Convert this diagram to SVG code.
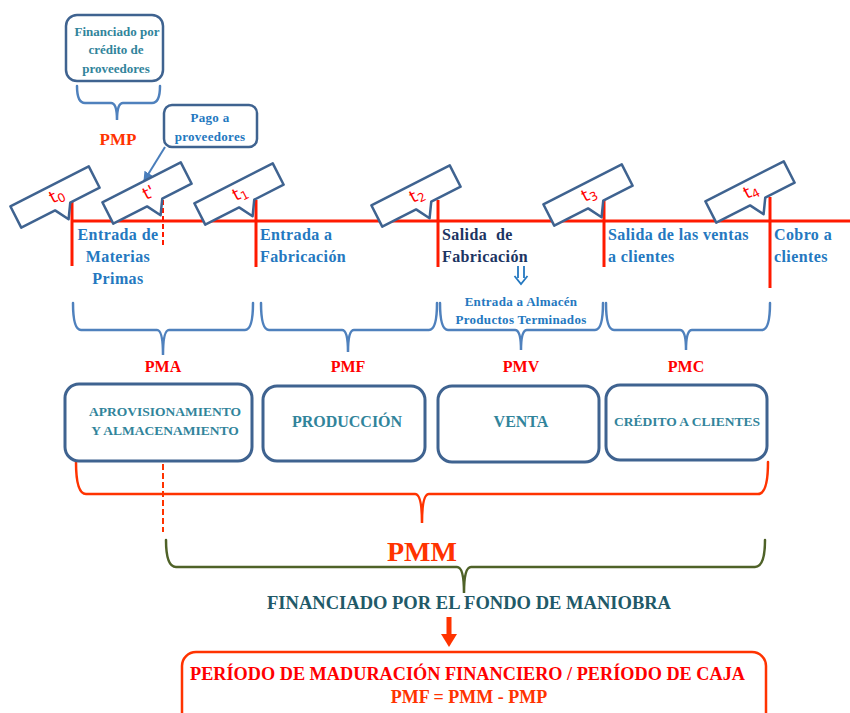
<svg xmlns="http://www.w3.org/2000/svg" width="850" height="713" viewBox="0 0 850 713">
<defs>
<style>
.ser{font-family:"Liberation Serif","Times New Roman",serif;font-weight:bold}
.lbl{font-size:16px;letter-spacing:0.4px;fill:#2478C0}
.navy{fill:#1C3462}
.teal{fill:#31849B}
.red{fill:#FF0000}
.ored{fill:#FF3300}
.co{fill:#fff;stroke:#3F6390;stroke-width:2.5;stroke-linejoin:round}
.box{fill:#fff;stroke:#3F6390;stroke-width:3}
.tl{stroke:#FF1A00;stroke-width:3;fill:none}
.br{fill:none;stroke:#4F81BD;stroke-width:2.5;stroke-linecap:round}
.tt{font-family:"DejaVu Sans",sans-serif;font-size:17px;fill:#FF0000}
</style>
<path id="callout" d="M-44,-12 H44 V12 H11 L2,26 L-6,12 H-44 Z"/>
<marker id="ah" viewBox="0 0 10 10" refX="9" refY="5" markerWidth="5" markerHeight="5" orient="auto"><path d="M0,0 L10,5 L0,10 Z" fill="#4A7EBB"/></marker>
</defs>
<rect width="850" height="713" fill="#fff"/>

<g id="connectors">
<line class="tl" x1="71" y1="221" x2="850" y2="221"/>
<line class="tl" x1="72" y1="200" x2="72" y2="266"/>
<line class="tl" x1="256" y1="200" x2="256" y2="267"/>
<line class="tl" x1="438" y1="200" x2="438" y2="267"/>
<line class="tl" x1="604" y1="200" x2="604" y2="267"/>
<line class="tl" x1="770" y1="197" x2="770" y2="288"/>
<line x1="163" y1="200" x2="163" y2="246" stroke="#FF1A00" stroke-width="2" stroke-dasharray="5,3"/>
<line x1="163" y1="464" x2="163" y2="532" stroke="#FF3300" stroke-width="2" stroke-dasharray="6,3"/>
<line x1="165" y1="147" x2="144" y2="181" stroke="#4A7EBB" stroke-width="2" marker-end="url(#ah)"/>
<path class="br" d="M77,86 Q77,103 85,103 H111 Q117,103 117,120 Q117,103 123,103 H152 Q160,103 160,86"/>
<path class="br" d="M73,303 Q73,330 81,330 H157 Q163,330 163,355 Q163,330 169,330 H245 Q253,330 253,303"/>
<path class="br" d="M261,303 Q261,330 269,330 H342 Q348,330 348,352 Q348,330 354,330 H429 Q437,330 437,303"/>
<path class="br" d="M440,303 Q440,330 448,330 H515 Q521,330 521,350 Q521,330 527,330 H595 Q603,330 603,303"/>
<path class="br" d="M606,303 Q606,330 614,330 H680 Q686,330 686,350 Q686,330 692,330 H762 Q770,330 770,303"/>
<path d="M76,462 Q76,494 86,494 H415 Q422,494 422,523 Q422,494 429,494 H758 Q768,494 768,462" fill="none" stroke="#FF3300" stroke-width="2.5" stroke-linecap="round"/>
<path d="M166,540 Q166,567 176,567 H457 Q464,567 464,593 Q464,567 471,567 H755 Q765,567 765,540" fill="none" stroke="#4F6228" stroke-width="2.5" stroke-linecap="round"/>
<rect x="446.5" y="617" width="5" height="19" fill="#FF3300"/>
<polygon points="441,634 457,634 449,647" fill="#FF3300"/>
<!-- double down arrow -->
<g fill="none" stroke="#2478C0" stroke-width="1.8" stroke-linejoin="miter">
<path d="M518,266 V278 M524,266 V278"/>
<path d="M514.5,276 L521,284 L527.5,276"/>
</g>
</g>

<g id="financiado-box">
<rect x="66" y="15" width="97" height="66" rx="11" fill="#fff" stroke="#3F6390" stroke-width="2.5"/>
<text class="ser teal" font-size="13" text-anchor="middle"><tspan x="117" y="36">Financiado por</tspan><tspan x="116" y="54">crédito de</tspan><tspan x="116" y="73">proveedores</tspan></text>
</g>
<g id="pmp"><text class="ser ored" font-size="17" x="118" y="145" text-anchor="middle">PMP</text></g>
<g id="pago-box">
<rect x="164" y="105" width="93" height="42" rx="8" fill="#fff" stroke="#3F6390" stroke-width="2.5"/>
<text class="ser" font-size="13" fill="#2478C0" letter-spacing="0.3" text-anchor="middle"><tspan x="210" y="122">Pago a</tspan><tspan x="210" y="141">proveedores</tspan></text>
</g>

<g id="t0"><g transform="translate(55,197) rotate(-27)"><use href="#callout" class="co"/><text class="tt" x="-5" y="5">t<tspan font-size="12" dy="3">0</tspan></text></g></g>
<g id="tprime"><g transform="translate(147,193) rotate(-27)"><use href="#callout" class="co"/><text class="tt" x="-4" y="6">t'</text></g></g>
<g id="t1"><g transform="translate(239,194) rotate(-27)"><use href="#callout" class="co"/><text class="tt" x="-6" y="5">t<tspan font-size="12" dy="3">1</tspan></text></g></g>
<g id="t2"><g transform="translate(416,196) rotate(-27)"><use href="#callout" class="co"/><text class="tt" x="-6" y="5">t<tspan font-size="12" dy="3">2</tspan></text></g></g>
<g id="t3"><g transform="translate(588,195) rotate(-27)"><use href="#callout" class="co"/><text class="tt" x="-6" y="5">t<tspan font-size="12" dy="3">3</tspan></text></g></g>
<g id="t4"><g transform="translate(750,192) rotate(-27)"><use href="#callout" class="co"/><text class="tt" x="-6" y="5">t<tspan font-size="12" dy="3">4</tspan></text></g></g>

<g id="lbl-entrada-mp"><text class="ser lbl" text-anchor="middle"><tspan x="118" y="240">Entrada de</tspan><tspan x="118" y="262">Materias</tspan><tspan x="118" y="284">Primas</tspan></text></g>
<g id="lbl-entrada-fab"><text class="ser lbl"><tspan x="260" y="240">Entrada a</tspan><tspan x="260" y="262">Fabricación</tspan></text></g>
<g id="lbl-salida-fab"><text class="ser lbl navy" xml:space="preserve"><tspan x="442" y="240">Salida  de</tspan><tspan x="442" y="262">Fabricación</tspan></text></g>
<g id="lbl-salida-ventas"><text class="ser lbl"><tspan x="608" y="240">Salida de las ventas</tspan><tspan x="608" y="262">a clientes</tspan></text></g>
<g id="lbl-cobro"><text class="ser lbl"><tspan x="774" y="240">Cobro a</tspan><tspan x="774" y="262">clientes</tspan></text></g>
<g id="lbl-almacen"><text class="ser" font-size="13" fill="#2478C0" letter-spacing="0.3" text-anchor="middle"><tspan x="521" y="306">Entrada a Almacén</tspan><tspan x="521" y="324">Productos Terminados</tspan></text></g>

<g id="pma"><text class="ser red" font-size="16" x="163" y="372" text-anchor="middle">PMA</text></g>
<g id="pmf"><text class="ser red" font-size="16" x="348" y="372" text-anchor="middle">PMF</text></g>
<g id="pmv"><text class="ser red" font-size="16" x="521" y="372" text-anchor="middle">PMV</text></g>
<g id="pmc"><text class="ser red" font-size="16" x="686" y="372" text-anchor="middle">PMC</text></g>

<g id="box-aprov"><rect class="box" x="65" y="384" width="187" height="77" rx="14"/><text class="ser teal" font-size="13.5" text-anchor="middle"><tspan x="165" y="416">APROVISIONAMIENTO</tspan><tspan x="165" y="435">Y ALMACENAMIENTO</tspan></text></g>
<g id="box-prod"><rect class="box" x="263" y="386" width="162" height="75" rx="14"/><text class="ser teal" font-size="16" x="347" y="427" text-anchor="middle">PRODUCCIÓN</text></g>
<g id="box-venta"><rect class="box" x="438" y="386" width="161" height="76" rx="14"/><text class="ser teal" font-size="16" x="521" y="427" text-anchor="middle">VENTA</text></g>
<g id="box-credito"><rect class="box" x="606" y="385" width="161" height="75" rx="14"/><text class="ser teal" font-size="13.5" x="687" y="426" text-anchor="middle">CRÉDITO A CLIENTES</text></g>

<g id="pmm"><text class="ser ored" font-size="28" x="422" y="561" text-anchor="middle">PMM</text></g>
<g id="fondo"><text class="ser" font-size="18" fill="#215968" x="267" y="609" textLength="404" lengthAdjust="spacingAndGlyphs">FINANCIADO POR EL FONDO DE MANIOBRA</text></g>

<g id="box-final">
<rect x="182" y="652" width="584" height="75" rx="14" fill="#fff" stroke="#FF3300" stroke-width="2.5"/>
<text class="ser red" font-size="18" x="190" y="680" textLength="555" lengthAdjust="spacingAndGlyphs">PERÍODO DE MADURACIÓN FINANCIERO / PERÍODO DE CAJA</text>
<text class="ser ored" font-size="18" x="469" y="703" text-anchor="middle">PMF = PMM - PMP</text>
</g>
</svg>
